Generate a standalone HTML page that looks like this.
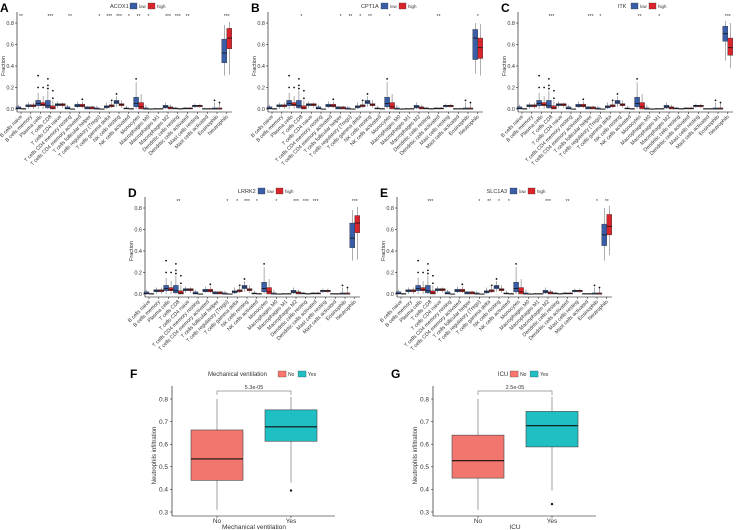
<!DOCTYPE html>
<html><head><meta charset="utf-8"><style>
html,body{margin:0;padding:0;background:#fff;}
svg{display:block;font-family:"Liberation Sans",Arial,sans-serif;}
</style></head><body>
<svg id="fig" width="748" height="530" viewBox="0 0 748 530" xmlns="http://www.w3.org/2000/svg"></svg>
<script>
// ---------- data ----------
const categories = ["B cells naive","B cells memory","Plasma cells","T cells CD8","T cells CD4 naive","T cells CD4 memory resting","T cells CD4 memory activated","T cells follicular helper","T cells regulatory (Tregs)","T cells gamma delta","NK cells resting","NK cells activated","Monocytes","Macrophages M0","Macrophages M1","Macrophages M2","Dendritic cells resting","Dendritic cells activated","Mast cells resting","Mast cells activated","Eosinophils","Neutrophils"];
const yTicks = [0.0,0.2,0.4,0.6,0.8];
const yTickLabels = ["0.0","0.2","0.4","0.6","0.8"];
// [min,q1,median,q3,max] for categories 0..20
const lowBase = [[0,0,0.005,0.02,0.04],[0,0.02,0.03,0.04,0.06],[0,0.03,0.05,0.08,0.15],[0,0.01,0.03,0.08,0.17],[0.01,0.03,0.04,0.05,0.07],[0,0,0.005,0.02,0.04],[0.01,0.02,0.03,0.045,0.07],[0,0,0.01,0.02,0.03],[0,0,0,0.01,0.03],[0,0.01,0.02,0.03,0.06],[0.02,0.05,0.065,0.08,0.12],[0,0,0.005,0.01,0.03],[0,0.02,0.05,0.11,0.25],[0,0,0,0.01,0.04],[0,0,0,0.005,0.01],[0,0.01,0.02,0.035,0.06],[0,0,0.005,0.01,0.02],[0,0,0.005,0.01,0.02],[0.01,0.02,0.03,0.035,0.05],[0,0,0,0.005,0.01],[0,0,0,0.01,0.06]];
const highBase = [[0,0,0,0.005,0.01],[0,0.02,0.03,0.04,0.06],[0,0.03,0.04,0.06,0.12],[0,0,0.01,0.03,0.08],[0.01,0.03,0.04,0.05,0.06],[0,0,0,0,0.005],[0.01,0.02,0.03,0.045,0.07],[0,0,0.01,0.02,0.03],[0,0,0,0,0],[0.01,0.02,0.03,0.04,0.07],[0.01,0.03,0.04,0.05,0.08],[0,0,0,0.005,0.01],[0,0,0.02,0.06,0.14],[0,0,0,0,0.01],[0,0,0,0.005,0.01],[0,0,0.01,0.02,0.04],[0,0,0,0.005,0.01],[0,0,0.005,0.01,0.02],[0.01,0.02,0.03,0.035,0.05],[0,0,0,0.005,0.01],[0,0,0,0.01,0.06]];
const outCat = [2,2,2,3,3,3,3,3,12,6,10,20,20,9];
const outGrp = [0,0,1,0,0,0,1,1,0,1,0,0,1,1];
const outVal = [0.31,0.2,0.2,0.28,0.22,0.19,0.17,0.1,0.28,0.09,0.14,0.08,0.06,0.08];
const neutLowA=[0.31,0.43,0.52,0.65,0.78], neutHighA=[0.32,0.56,0.66,0.75,0.81];
const neutLowB=[0.33,0.46,0.66,0.74,0.8], neutHighB=[0.31,0.47,0.57,0.66,0.79];
const neutLowC=[0.45,0.63,0.7,0.77,0.82], neutHighC=[0.38,0.5,0.57,0.66,0.8];
const neutLowD=[0.31,0.43,0.52,0.66,0.78], neutHighD=[0.32,0.57,0.66,0.73,0.81];
const neutLowE=[0.31,0.45,0.55,0.65,0.8], neutHighE=[0.36,0.55,0.63,0.74,0.82];
const sigA=["**","","","***","","**","","","*","***","***","*","**","*","","***","***","**","","","","***"];
const sigB=["","","","*","","","","*","**","*","**","","*","","","","","**","","","","*"];
const sigC=["","","","***","","","","***","*","","","","**","","*","","","","","","","***"];
const sigD=["","","","**","","","","","*","*","***","*","","*","","***","***","***","","","","***"];
const sigE=["","","","***","","","","","*","**","*","*","","","","***","","**","","","*","**"];
// panel F / G
const groups2=["No","Yes"];
const fBoxes=[[0.31,0.44,0.535,0.663,0.80],[0.43,0.613,0.677,0.752,0.81]];
const fOutliers=[[1,0.395]];
const gBoxes=[[0.31,0.45,0.527,0.64,0.80],[0.395,0.588,0.682,0.745,0.81]];
const gOutliers=[[1,0.335]];
const y2Ticks=[0.3,0.4,0.5,0.6,0.7,0.8];

const NS="http://www.w3.org/2000/svg";
const svg=document.getElementById('fig');
function mk(tag,attrs,parent,text){const e=document.createElementNS(NS,tag);for(const k in attrs)e.setAttribute(k,attrs[k]);if(text!==undefined)e.textContent=text;(parent||svg).appendChild(e);return e;}
const BLUE="#3A5DA8", RED="#D9242B";

function boxAt(g,cx,w,b,fill,yf){
  mk('line',{x1:cx,x2:cx,y1:yf(b[0]),y2:yf(b[4]),stroke:'#777','stroke-width':0.6},g);
  const r=mk('rect',{x:cx-w/2,y:yf(b[3]),width:w,height:Math.max(0.4,yf(b[1])-yf(b[3])),fill:fill,stroke:'#333','stroke-width':0.4},g);
  mk('line',{x1:cx-w/2,x2:cx+w/2,y1:yf(b[2]),y2:yf(b[2]),stroke:'#111','stroke-width':0.8},g);
  return r;
}

function panel(letter,ox,oy,gene,sig,neutLow,neutHigh){
  const g=mk('g',{});
  
  
  const y0=oy, k=107.5;
  const yf=v=>y0-v*k;
  const xf=i=>ox+4+i*9.8;
  const L=mk('text',{x:ox-17,y:oy-97,'font-size':12,'font-weight':'bold'},g,letter);
  
  
  // legend
  const lg=mk('g',{},g);
  
  
  const gw=gene.length*3.4;
  const lx=ox+113-gw-3, ly=oy-103;
  mk('text',{x:lx,y:ly+2,'font-size':5.5,fill:'#333'},lg,gene);
  const bx=ox+113;
  mk('rect',{x:bx,y:ly-3,width:7,height:6,fill:BLUE,stroke:'#333','stroke-width':0.3},lg);
  mk('text',{x:bx+9,y:ly+2,'font-size':4.5,fill:'#333'},lg,'low');
  mk('rect',{x:bx+18,y:ly-3,width:7,height:6,fill:RED,stroke:'#333','stroke-width':0.3},lg);
  mk('text',{x:bx+27,y:ly+2,'font-size':4.5,fill:'#333'},lg,'high');
  // axes
  mk('line',{x1:ox,x2:ox,y1:oy-97,y2:oy+3,stroke:'#000','stroke-width':0.6},g);
  mk('line',{x1:ox,x2:ox+215,y1:oy+3,y2:oy+3,stroke:'#000','stroke-width':0.6},g);
  yTicks.forEach((t,i)=>{
    mk('line',{x1:ox-2,x2:ox,y1:yf(t),y2:yf(t),stroke:'#000','stroke-width':0.5},g);
    const tl=mk('text',{x:ox-3,y:yf(t)+2,'font-size':5.5,'text-anchor':'end',fill:'#333'},g,yTickLabels[i]);
    
    
  });
  const yt=mk('text',{x:0,y:0,'font-size':5.5,'text-anchor':'middle',fill:'#333',transform:`translate(${ox-12},${oy-43}) rotate(-90)`},g,'Fraction');
  
  
  categories.forEach((c,i)=>{
    const x=xf(i);
    mk('line',{x1:x,x2:x,y1:oy+3,y2:oy+5,stroke:'#000','stroke-width':0.5},g);
    const t=mk('text',{x:0,y:0,'font-size':5.2,'text-anchor':'end',fill:'#333',transform:`translate(${x+1.5},${oy+8}) rotate(-45)`},g,c);
    
    
    const lo=i<21?lowBase[i]:neutLow, hi=i<21?highBase[i]:neutHigh;
    const b1=boxAt(g,x-2.5,5,lo,BLUE,yf);
    
    
    const b2=boxAt(g,x+2.5,5,hi,RED,yf);
    
    
    if(sig[i]){const s=mk('text',{x:x,y:oy-91,'font-size':5,'text-anchor':'middle',fill:'#333'},g,sig[i]);
      
      }
  });
  outCat.forEach((c,j)=>{
    const p=mk('circle',{cx:xf(c)+(outGrp[j]?2.5:-2.5),cy:yf(outVal[j]),r:0.9,fill:'#111'},g);
    
    
  });
}
panel('A',17,109,'ACOX1',sigA,neutLowA,neutHighA);
panel('B',268,109,'CPT1A',sigB,neutLowB,neutHighB);
panel('C',518,109,'ITK',sigC,neutLowC,neutHighC);
panel('D',145,294,'LRRK2',sigD,neutLowD,neutHighD);
panel('E',397,294,'SLC1A3',sigE,neutLowE,neutHighE);

function panel2(letter,ox,boxes,outs,legendTitle,xTitle,pval){
  const g=mk('g',{});
  
  
  const yf=v=>399+(0.8-v)*(113/0.5);
  const xs=[ox+45,ox+119];
  const L=mk('text',{x:ox-42,y:378,'font-size':12,'font-weight':'bold'},g,letter);
  
  
  // legend
  const lg=mk('g',{},g);
  
  
  const tw=legendTitle.length*3.05;
  const lx=ox+92-(tw+45)/2;
  mk('text',{x:lx,y:376,'font-size':6,fill:'#333'},lg,legendTitle);
  mk('rect',{x:lx+tw+3,y:371,width:8,height:6,fill:'#F8766D',stroke:'#333','stroke-width':0.3},lg);
  mk('text',{x:lx+tw+13,y:376,'font-size':5,fill:'#333'},lg,'No');
  mk('rect',{x:lx+tw+23,y:371,width:8,height:6,fill:'#1FBFC4',stroke:'#333','stroke-width':0.3},lg);
  mk('text',{x:lx+tw+33,y:376,'font-size':5,fill:'#333'},lg,'Yes');
  // axes
  mk('line',{x1:ox,x2:ox,y1:386,y2:516,stroke:'#000','stroke-width':0.6},g);
  mk('line',{x1:ox,x2:ox+163,y1:516,y2:516,stroke:'#000','stroke-width':0.6},g);
  y2Ticks.forEach(t=>{
    mk('line',{x1:ox-2,x2:ox,y1:yf(t),y2:yf(t),stroke:'#000','stroke-width':0.5},g);
    const tl=mk('text',{x:ox-4,y:yf(t)+2.3,'font-size':6.5,'text-anchor':'end',fill:'#333'},g,t.toFixed(1));
    
    
  });
  const yt=mk('text',{x:0,y:0,'font-size':6,'text-anchor':'middle',fill:'#333',transform:`translate(${ox-16},${yf(0.55)}) rotate(-90)`},g,'Neutrophils infiltration');
  
  
  const cols=['#F3766E','#1FBFC4'];
  boxes.forEach((b,i)=>{
    const x=xs[i];
    mk('line',{x1:x,x2:x,y1:yf(b[0]),y2:yf(b[4]),stroke:'#888','stroke-width':0.8},g);
    const r=mk('rect',{x:x-26,y:yf(b[3]),width:52,height:yf(b[1])-yf(b[3]),fill:cols[i],stroke:'#444','stroke-width':0.6},g);
    
    
    mk('line',{x1:x-26,x2:x+26,y1:yf(b[2]),y2:yf(b[2]),stroke:'#111','stroke-width':1.1},g);
    mk('line',{x1:x,x2:x,y1:516,y2:518,stroke:'#000','stroke-width':0.5},g);
    const xl=mk('text',{x:x,y:523,'font-size':6.5,'text-anchor':'middle',fill:'#333'},g,groups2[i]);
    
    
  });
  outs.forEach(o=>{
    const p=mk('circle',{cx:xs[o[0]],cy:yf(o[1]),r:1.2,fill:'#111'},g);
    
    
  });
  const bk=mk('path',{d:`M${xs[0]},395 V391 H${xs[1]} V395`,fill:'none',stroke:'#888','stroke-width':0.7},g);
  
  
  const pv=mk('text',{x:(xs[0]+xs[1])/2,y:389,'font-size':5.5,'text-anchor':'middle',fill:'#333'},g,pval);
  
  
  const xt=mk('text',{x:(xs[0]+xs[1])/2,y:529,'font-size':6.5,'text-anchor':'middle',fill:'#333'},g,xTitle);
  
  
}
panel2('F',172,fBoxes,fOutliers,'Mechanical ventilation','Mechanical ventilation','5.3e-05');
panel2('G',433,gBoxes,gOutliers,'ICU','ICU','2.5e-05');
</script>
</body></html>
